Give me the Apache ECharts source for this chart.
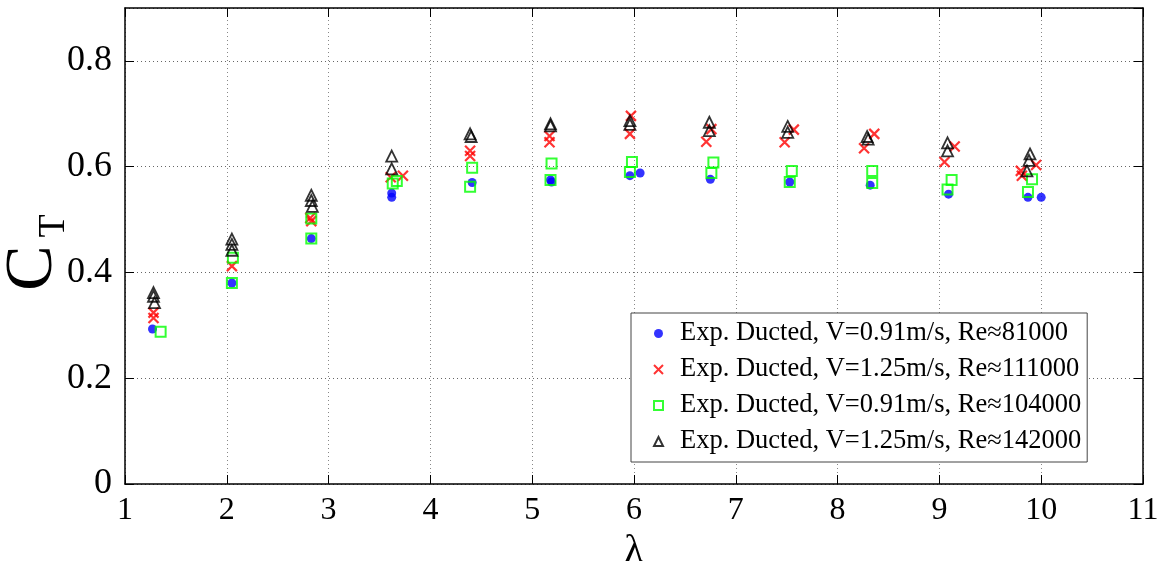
<!DOCTYPE html>
<html>
<head>
<meta charset="utf-8">
<script src="https://cdn.jsdelivr.net/npm/echarts@6/dist/echarts.min.js"></script>
<style>
html,body{margin:0;padding:0;background:#fff;}
#chart{width:1165px;height:561px;}
</style>
</head>
<body>
<div id="chart"></div>
<script>
// ---- data ----
var xTicks = [1, 2, 3, 4, 5, 6, 7, 8, 9, 10, 11];
var yTicks = [0, 0.2, 0.4, 0.6, 0.8];

var seriesNames = [
  'Exp. Ducted, V=0.91m/s, Re\u224881000',
  'Exp. Ducted, V=1.25m/s, Re\u2248111000',
  'Exp. Ducted, V=0.91m/s, Re\u2248104000',
  'Exp. Ducted, V=1.25m/s, Re\u2248142000'
];

var blueLambda = [1.27, 2.05, 2.83, 3.62, 3.62, 4.41, 5.18, 5.19, 5.96, 6.06, 6.75, 7.53, 8.32, 9.09, 9.87, 10.0];
var blueCT     = [0.293, 0.380, 0.464, 0.550, 0.542, 0.570, 0.575, 0.571, 0.583, 0.588, 0.576, 0.571, 0.565, 0.548, 0.542, 0.542];

var redLambda = [1.28, 1.28, 2.05, 2.82, 2.83, 3.61, 3.73, 4.39, 4.39, 5.17, 5.17, 5.97, 5.96, 6.76, 6.71, 7.57, 7.48, 8.36, 8.26, 9.15, 9.05, 9.95, 9.80, 9.81];
var redCT     = [0.324, 0.314, 0.412, 0.503, 0.497, 0.580, 0.583, 0.630, 0.620, 0.658, 0.646, 0.696, 0.662, 0.671, 0.647, 0.670, 0.646, 0.662, 0.635, 0.638, 0.609, 0.603, 0.592, 0.583];

var greenLambda = [1.35, 2.06, 2.05, 2.83, 2.83, 3.63, 3.67, 4.41, 4.39, 5.19, 5.18, 5.98, 5.96, 6.78, 6.76, 7.55, 7.53, 8.34, 8.34, 9.12, 9.08, 9.91, 9.87];
var greenCT     = [0.288, 0.428, 0.380, 0.502, 0.464, 0.568, 0.573, 0.598, 0.562, 0.606, 0.575, 0.609, 0.590, 0.608, 0.588, 0.592, 0.571, 0.592, 0.569, 0.575, 0.557, 0.576, 0.552];

var blackLambda = [1.28, 1.28, 1.29, 2.05, 2.05, 2.05, 2.83, 2.83, 2.84, 3.62, 3.62, 4.39, 4.40, 5.18, 5.18, 5.96, 5.96, 6.74, 6.74, 7.51, 7.51, 8.29, 8.30, 9.08, 9.08, 9.89, 9.88, 9.86];
var blackCT     = [0.362, 0.355, 0.343, 0.463, 0.453, 0.442, 0.546, 0.536, 0.525, 0.620, 0.596, 0.662, 0.657, 0.681, 0.677, 0.687, 0.680, 0.684, 0.668, 0.676, 0.665, 0.657, 0.652, 0.645, 0.630, 0.624, 0.612, 0.592];

function zip(a, b) { return a.map(function (v, i) { return [v, b[i]]; }); }

var FONT = '"Liberation Serif", "Times New Roman", serif';

var chart = echarts.init(document.getElementById('chart'), null, {renderer: 'canvas'});

var baseX = {
  type: 'value', min: 1, max: 11, interval: 1,
  axisLine: {show: true, onZero: false, lineStyle: {color: '#000', width: 1.5}},
  axisTick: {show: true, inside: true, length: 9, lineStyle: {color: '#000', width: 1}},
  splitLine: {show: false}
};
var baseY = {
  type: 'value', min: 0, max: 0.9, interval: 0.2,
  axisLine: {show: true, onZero: false, lineStyle: {color: '#000', width: 1.5}},
  axisTick: {show: true, inside: true, length: 9, lineStyle: {color: '#000', width: 1}},
  splitLine: {show: false}
};

var option = {
  backgroundColor: '#fff',
  animation: false,
  grid: {left: 125, right: 22, top: 8, bottom: 77, show: false, containLabel: false, outerBoundsMode: 'none'},
  graphic: [
    {type: 'text', x: 33, y: 268, rotation: Math.PI / 2, silent: true,
      style: {text: 'C', fontFamily: FONT, fontSize: 68, fill: '#000', align: 'center', verticalAlign: 'middle'}},
    {type: 'text', x: 54, y: 226, rotation: Math.PI / 2, silent: true,
      style: {text: 'T', fontFamily: FONT, fontSize: 38, fill: '#000', align: 'center', verticalAlign: 'middle'}}
  ],
  xAxis: [
    Object.assign({}, baseX, {
      position: 'bottom',
      axisLabel: {show: true, margin: 11, color: '#000', fontFamily: FONT, fontSize: 32,
        formatter: function (v) { return xTicks.indexOf(v) >= 0 ? String(v) : ''; }},
      splitLine: {show: true, lineStyle: {color: '#888', type: [1, 3], width: 1}},
      name: '\u03bb', nameLocation: 'middle', nameGap: 40,
      nameTextStyle: {color: '#000', fontFamily: FONT, fontSize: 40}
    }),
    Object.assign({}, baseX, {position: 'top', axisLabel: {show: false}})
  ],
  yAxis: [
    Object.assign({}, baseY, {
      position: 'left',
      axisLabel: {show: true, margin: 13, color: '#000', fontFamily: FONT, fontSize: 36, showMaxLabel: false,
        formatter: function (v) { return yTicks.indexOf(+v.toFixed(1)) >= 0 ? String(+v.toFixed(1)) : ''; }},
      splitLine: {show: true, lineStyle: {color: '#666', type: [1, 3], width: 1}}
    }),
    Object.assign({}, baseY, {position: 'right', axisLabel: {show: false}})
  ],
  legend: {
    orient: 'vertical', left: 631, top: 313,
    backgroundColor: '#fff', borderColor: '#444', borderWidth: 1, borderRadius: 0,
    padding: [7, 6, 7, 22],
    itemWidth: 9, itemHeight: 9, itemGap: 9,
    textStyle: {color: '#000', fontFamily: FONT, fontSize: 26.5, lineHeight: 25, padding: [0, 0, 0, 12]},
    data: seriesNames
  },
  series: [
    {
      name: seriesNames[0], type: 'scatter', data: zip(blueLambda, blueCT),
      symbol: 'circle', symbolSize: 9,
      itemStyle: {color: '#0000ff'}, z: 2
    },
    {
      name: seriesNames[1], type: 'scatter', data: zip(redLambda, redCT),
      symbol: 'path://M0,0L10,10M10,0L0,10', symbolSize: 10,
      itemStyle: {color: 'transparent', borderColor: '#ff0000', borderWidth: 2.2}, z: 3
    },
    {
      name: seriesNames[2], type: 'scatter', data: zip(greenLambda, greenCT),
      symbol: 'rect', symbolSize: 10,
      itemStyle: {color: 'transparent', borderColor: '#00ff00', borderWidth: 2}, z: 4
    },
    {
      name: seriesNames[3], type: 'scatter', data: zip(blackLambda, blackCT),
      symbol: 'triangle', symbolSize: 11,
      itemStyle: {color: 'transparent', borderColor: '#000000', borderWidth: 1.8}, z: 5
    }
  ]
};
chart.setOption(option);
</script>
</body>
</html>
